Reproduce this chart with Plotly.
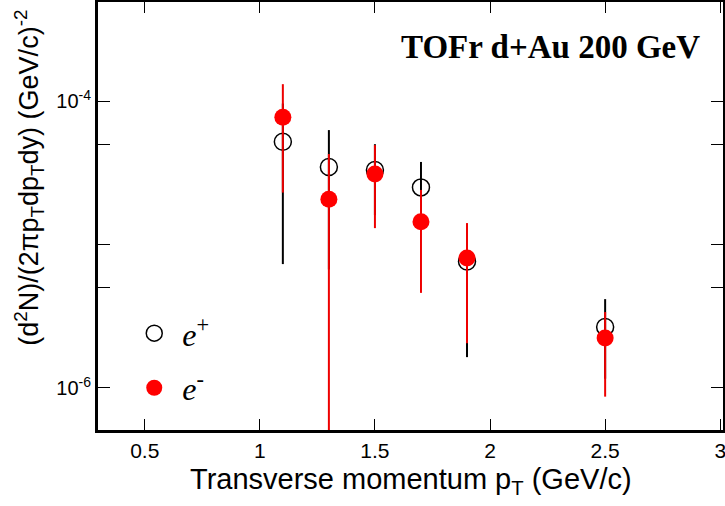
import plotly.graph_objects as go

pt = [1.1, 1.3, 1.5, 1.7, 1.9, 2.5]

# e+ (open circles)
ep_y = [5.2e-5, 3.47e-5, 3.3e-5, 2.5e-5, 7.6e-6, 2.66e-6]
ep_up = [4.4e-5, 2.8e-5, 1.7e-5, 1.26e-5, 6.0e-6, 1.5e-6]
ep_dn = [4.47e-5, 2.8e-5, 1.7e-5, 1.26e-5, 5.96e-6, 1.5e-6]

# e- (filled red circles)
em_y = [7.7e-5, 2.07e-5, 3.1e-5, 1.44e-5, 8.05e-6, 2.23e-6]
em_up = [5.4e-5, 2.2e-5, 1.83e-5, 0.96e-5, 6.05e-6, 1.15e-6]
em_dn = [5.4e-5, 2.2e-5, 1.8e-5, 0.98e-5, 6.0e-6, 1.36e-6]

x_ticks = [0.5, 1, 1.5, 2, 2.5, 3]
x_ticktext = ["0.5", "1", "1.5", "2", "2.5", "3"]
y_ticks = [1e-6, 5e-6, 1e-5, 5e-5, 1e-4]
y_ticktext = ["10<sup>-6</sup>", "", "", "", "10<sup>-4</sup>"]

fig = go.Figure()
fig.add_trace(go.Scatter(
    x=pt, y=ep_y, mode="markers", name="&nbsp;<i>e</i><sup>+</sup>",
    legendgroup="a",
    marker=dict(symbol="circle-open", size=17, color="black", line=dict(width=1.5, color="black")),
    error_y=dict(type="data", symmetric=False, array=ep_up, arrayminus=ep_dn,
                 color="black", thickness=2, width=0),
))
fig.add_trace(go.Scatter(
    x=pt, y=em_y, mode="markers", name="&nbsp;<i>e</i><sup>-</sup>",
    legendgroup="b",
    marker=dict(symbol="circle", size=17, color="#ff0000"),
    error_y=dict(type="data", symmetric=False, array=em_up, arrayminus=em_dn,
                 color="#ee0000", thickness=2, width=0),
))

fig.update_layout(
    width=725, height=506,
    margin=dict(l=98, r=2, t=2, b=76, autoexpand=False),
    paper_bgcolor="white", plot_bgcolor="white",
    font=dict(family="Liberation Sans, Arial", color="black", size=20),
    showlegend=True,
    legend=dict(x=0.058, y=0.29, xanchor="left", yanchor="top",
                bgcolor="rgba(0,0,0,0)", tracegroupgap=10,
                font=dict(family="Liberation Serif, Times New Roman", size=32)),
    xaxis=dict(range=[0.297, 3.012], tickvals=x_ticks, ticktext=x_ticktext,
               ticks="inside", ticklen=11, tickwidth=1, tickcolor="black",
               showline=True, linecolor="black", linewidth=3, mirror="ticks",
               showgrid=False, zeroline=False, ticklabeloverflow="allow",
               tickfont=dict(size=21)),
    yaxis=dict(type="log", range=[-6.293, -3.31], tickvals=y_ticks, ticktext=y_ticktext,
               ticks="inside", ticklen=12, tickwidth=1, tickcolor="black",
               showline=True, linecolor="black", linewidth=3, mirror="ticks",
               showgrid=False, zeroline=False,
               tickfont=dict(size=20)),
    annotations=[
        dict(text="<b>TOFr d+Au 200 GeV</b>", xref="paper", yref="paper",
             x=0.966, y=0.895, xanchor="right", yanchor="middle", showarrow=False,
             font=dict(family="Liberation Serif, Times New Roman", size=33, color="black")),
        dict(text="(d<sup>2</sup>N)/(2πp<sub>T</sub>dp<sub>T</sub>dy) (GeV/c)<sup>-2</sup>",
             xref="paper", yref="paper", x=-0.11, y=0.59, xanchor="center", yanchor="middle",
             textangle=-90, showarrow=False,
             font=dict(family="Liberation Sans, Arial", size=27, color="black")),
        dict(text="Transverse momentum p<sub>T</sub> (GeV/c)",
             xref="paper", yref="paper", x=0.5, y=-0.118, xanchor="center", yanchor="middle",
             showarrow=False,
             font=dict(family="Liberation Sans, Arial", size=29, color="black")),
    ],
)

fig.write_html("out.html", config={"displayModeBar": False},
               post_script="document.body.style.margin='0';")
